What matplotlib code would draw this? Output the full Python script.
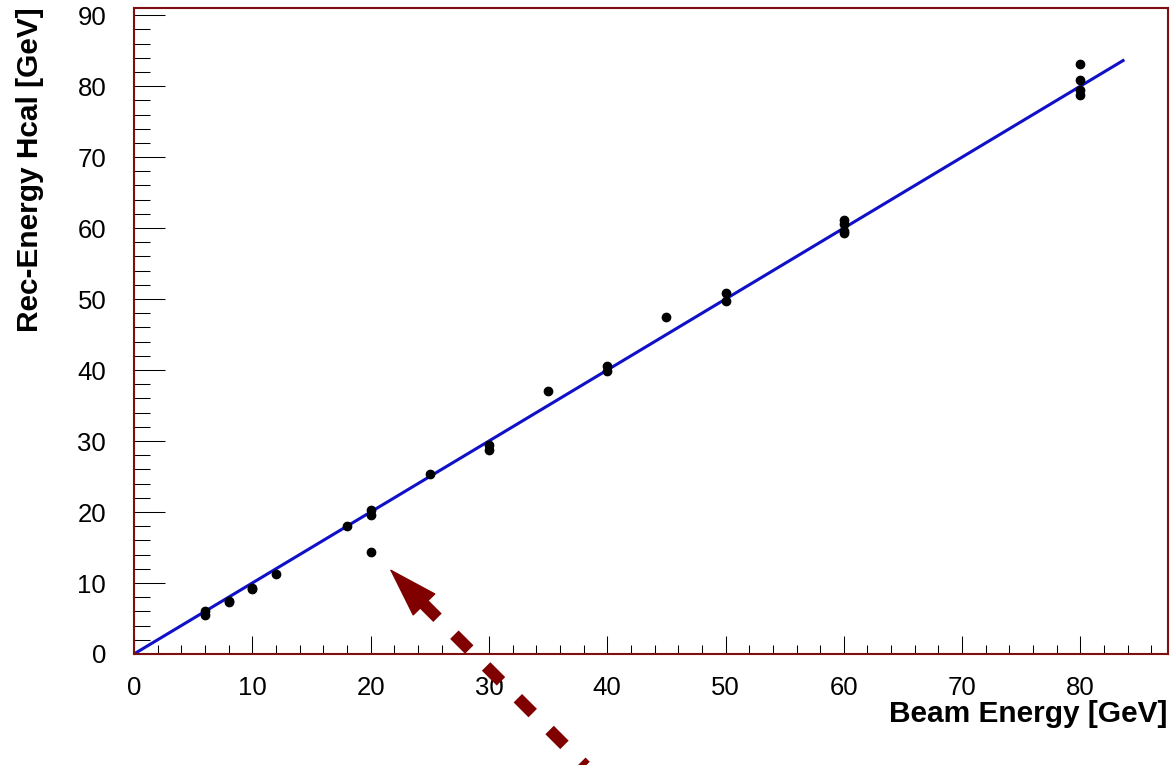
import numpy as np
import matplotlib
matplotlib.use("Agg")
import matplotlib.pyplot as plt
from matplotlib.ticker import MultipleLocator

plt.rcParams['font.family'] = ['Liberation Sans', 'DejaVu Sans']

# data
beam = [6, 6, 8, 8, 10, 10, 12, 18, 20, 20, 20, 25, 30, 30, 35,
        40, 40, 45, 50, 50, 60, 60, 60, 60, 80, 80, 80, 80]
rec = [5.5, 6.1, 7.3, 7.5, 9.1, 9.3, 11.3, 18.0, 20.3, 19.6, 14.4, 25.3, 29.4, 28.8, 37.0,
       40.6, 39.9, 47.5, 50.8, 49.7, 61.2, 60.6, 59.6, 59.3, 83.1, 80.8, 79.4, 78.8]

# linear fit drawn over the data
fit_slope = 1.0
fit_offset = 0.0
fit_range = [0.0, 83.6]

# annotation arrow pointing at the outlier (data coords)
arrow_tip = (21.6, 12.0)
arrow_base = (24.4, 7.2)
arrow_neck = (25.55, 5.2)
arrow_tail = (39.5, -18.0)

frame_col = '#801010'
arrow_col = '#800000'

fig = plt.figure(figsize=(11.7, 7.65), dpi=100)
ax = fig.add_axes([0.1145, 0.1451, 0.8838, 0.8444])

fx = np.array(fit_range)
ax.plot(fx, fit_slope * fx + fit_offset, color='#1010c8', lw=2.2, zorder=2)
ax.plot(beam, rec, 'o', color='black', markersize=6, zorder=3)

ax.set_xlim(0, 87.4)
ax.set_ylim(0, 91)

ax.xaxis.set_major_locator(MultipleLocator(10))
ax.xaxis.set_minor_locator(MultipleLocator(2))
ax.yaxis.set_major_locator(MultipleLocator(10))
ax.yaxis.set_minor_locator(MultipleLocator(2))

ax.tick_params(axis='both', which='both', direction='in', color='black',
               width=0.75, labelsize=18.5, top=False, right=False)
ax.tick_params(axis='x', which='major', length=13, pad=16)
ax.tick_params(axis='x', which='minor', length=6.5)
ax.tick_params(axis='y', which='major', length=22, pad=20)
ax.tick_params(axis='y', which='minor', length=11.5)

for s in ax.spines.values():
    s.set_color(frame_col)
    s.set_linewidth(1.5)

fig.text(1167 / 1170, 1 - 722 / 765, 'Beam Energy [GeV]', ha='right', va='baseline',
         fontsize=21.5, fontweight='bold')
fig.text(30 / 1170, 1 - 7 / 765, 'Rec-Energy Hcal [GeV]', ha='center', va='top',
         rotation=90, fontsize=21.5, fontweight='bold')

# dashed shaft + solid head
ax.plot([arrow_base[0], arrow_tail[0]], [arrow_base[1], arrow_tail[1]],
        color=arrow_col, lw=8.6, dashes=(1.76, 2.0), clip_on=False, zorder=4)
ax.annotate('', xy=arrow_tip, xytext=arrow_neck, annotation_clip=False,
            arrowprops=dict(arrowstyle='-|>,head_length=3.4,head_width=1.08',
                            mutation_scale=10, color=arrow_col, lw=1,
                            shrinkA=0, shrinkB=0), zorder=4)

fig.savefig('out.png', dpi=100)
